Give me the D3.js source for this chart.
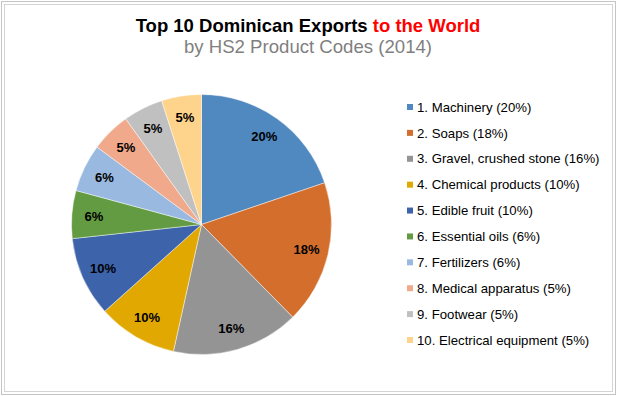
<!DOCTYPE html>
<html>
<head>
<meta charset="utf-8">
<script src="https://cdn.jsdelivr.net/npm/d3@7"></script>
<style>
  body { margin: 0; background: #fff; }
  svg { display: block; font-family: "Liberation Sans", Arial, sans-serif; }
</style>
</head>
<body>
<script>
const WIDTH = 617;
const HEIGHT = 396;

// data
const products = [
  "Machinery", "Soaps", "Gravel, crushed stone", "Chemical products", "Edible fruit",
  "Essential oils", "Fertilizers", "Medical apparatus", "Footwear", "Electrical equipment"
];
const shares = [20, 18, 16, 10, 10, 6, 6, 5, 5, 5];
const colors = [
  "#4f89c0", "#d46e2c", "#949494", "#e2a802", "#3d63ab",
  "#629b41", "#99b9e0", "#f0a98a", "#c0c0c0", "#fed38b"
];

const data = products.map((name, i) => ({ name, value: shares[i], color: colors[i], rank: i + 1 }));

const svg = d3.select("body").append("svg")
  .attr("width", WIDTH)
  .attr("height", HEIGHT)
  .attr("viewBox", [0, 0, WIDTH, HEIGHT]);

// chart frame (double grey border)
svg.append("rect")
  .attr("x", 1.5).attr("y", 1.5)
  .attr("width", WIDTH - 3).attr("height", HEIGHT - 3)
  .attr("fill", "none").attr("stroke", "#c4c4c4");
svg.append("rect")
  .attr("x", 4.5).attr("y", 4.5)
  .attr("width", WIDTH - 9).attr("height", HEIGHT - 9)
  .attr("fill", "none").attr("stroke", "#d4d4d4");

// title
const title = svg.append("text")
  .attr("x", 308).attr("y", 32)
  .attr("text-anchor", "middle")
  .attr("font-size", 18.5)
  .attr("font-weight", "bold");
title.append("tspan").attr("fill", "#000").text("Top 10 Dominican Exports ");
title.append("tspan").attr("fill", "#ff0000").text("to the World");

svg.append("text")
  .attr("x", 308).attr("y", 53)
  .attr("text-anchor", "middle")
  .attr("font-size", 18.6)
  .attr("fill", "#7f7f7f")
  .text("by HS2 Product Codes (2014)");

// pie
const cx = 201.5, cy = 224.5, radius = 130;
const pie = d3.pie().value(d => d.value).sort(null);
const arcs = pie(data);
const arc = d3.arc().innerRadius(0).outerRadius(radius);
const labelArc = d3.arc().innerRadius(radius * 0.83).outerRadius(radius * 0.83);

const g = svg.append("g").attr("transform", `translate(${cx},${cy})`);

g.selectAll("path")
  .data(arcs)
  .join("path")
    .attr("d", arc)
    .attr("fill", d => d.data.color)
    .attr("stroke", "#ffffff")
    .attr("stroke-opacity", 0.6)
    .attr("stroke-width", 0.75);

g.selectAll("text")
  .data(arcs)
  .join("text")
    .attr("transform", d => `translate(${labelArc.centroid(d)})`)
    .attr("text-anchor", "middle")
    .attr("dy", "0.35em")
    .attr("font-size", 13)
    .attr("font-weight", "bold")
    .attr("fill", "#000")
    .text(d => d.data.value + "%");

// legend
const legendY = d3.scalePoint()
  .domain(data.map(d => d.name))
  .range([107, 340]);

const legend = svg.append("g")
  .selectAll("g")
  .data(data)
  .join("g")
    .attr("transform", d => `translate(407,${legendY(d.name)})`);

legend.append("rect")
  .attr("x", 0).attr("y", -3)
  .attr("width", 6).attr("height", 6)
  .attr("fill", d => d.color);

legend.append("text")
  .attr("x", 10)
  .attr("dy", "0.35em")
  .attr("font-size", 13.2)
  .attr("fill", "#000")
  .text(d => `${d.rank}. ${d.name} (${d.value}%)`);
</script>
</body>
</html>
